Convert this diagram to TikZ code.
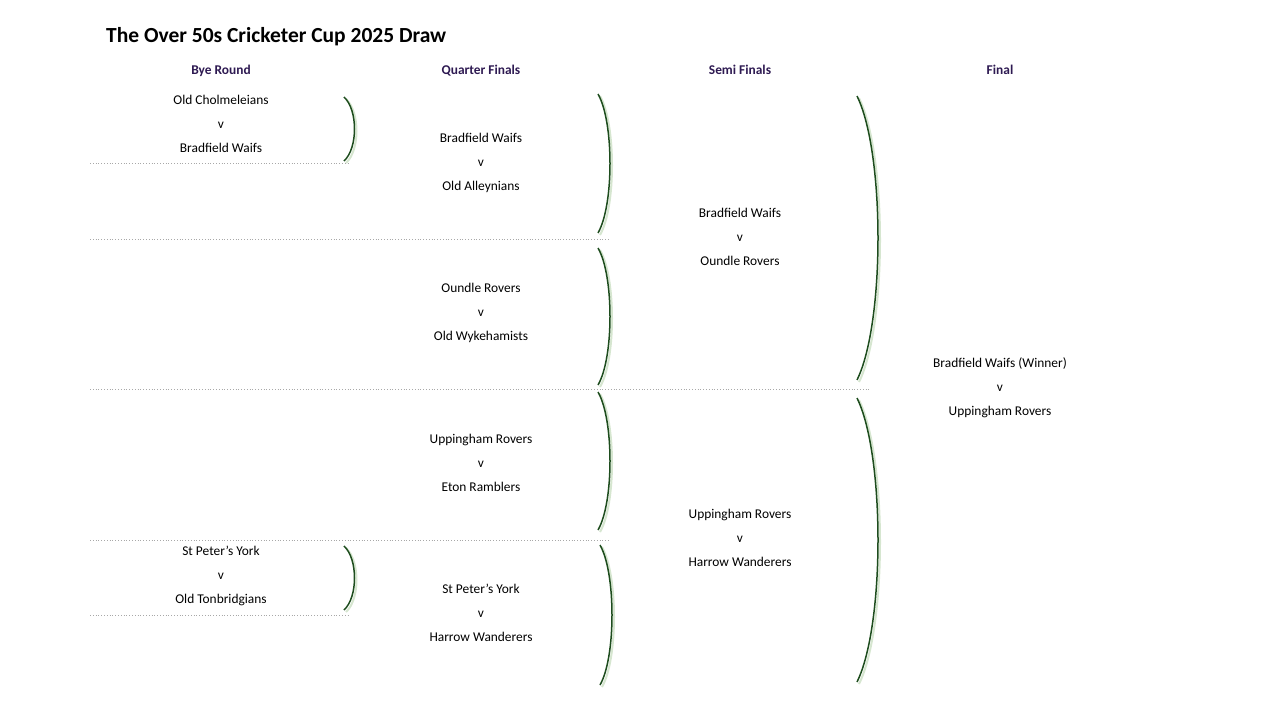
\documentclass[tikz,border=0pt]{standalone}
\usepackage{fontspec}
\setmainfont{Carlito}
\usetikzlibrary{positioning}
\definecolor{hdr}{HTML}{2E1A52}
\definecolor{brk}{HTML}{1E4D1E}
\definecolor{brkshade}{HTML}{D6E6D0}
\definecolor{rule}{HTML}{A8A8A8}
\newcommand{\bracketat}[4]{% x, top, bottom, bulge
  \draw[shade] ({#1+2},{#2+2}) .. controls ({#1+2+#4},{#2+2+0.2*(#3-#2)}) and ({#1+2+#4},{#3+2-0.2*(#3-#2)}) .. ({#1+2},{#3+2});
  \draw[brace] ({#1},{#2}) .. controls ({#1+#4},{#2+0.2*(#3-#2)}) and ({#1+#4},{#3-0.2*(#3-#2)}) .. ({#1},{#3});
}
\begin{document}
\begin{tikzpicture}[x=1pt,y=-1pt,
  team/.style={font=\fontsize{13.4}{15}\selectfont, inner sep=0pt, text height=9pt, text depth=3pt},
  head/.style={font=\fontsize{13.4}{15}\selectfont\bfseries, text=hdr, inner sep=0pt, text height=9pt, text depth=3pt},
  brace/.style={draw=brk, line width=1.5pt},
  shade/.style={draw=brkshade, line width=2pt},
  sep/.style={draw=rule, dotted, line width=0.8pt},
]
  \useasboundingbox (0,0) rectangle (1280,720);

  % Title and round headings
  \node[anchor=west, inner sep=0pt, font=\fontsize{21.5}{24}\selectfont\bfseries] (title) at (106,37) {The Over 50s Cricketer Cup 2025 Draw};
  \node[head] (hbye) at (221,71) {Bye Round};
  \node[head] (hqf) at (481,71) {Quarter Finals};
  \node[head] (hsf) at (740,71) {Semi Finals};
  \node[head] (hf) at (1000,71) {Final};

  % Matches
  \foreach \name/\x/\y/\home/\away in {
      b1/221/101/Old Cholmeleians/Bradfield Waifs,
      b2/221/552/St Peter’s York/Old Tonbridgians,
      q1/481/139/Bradfield Waifs/Old Alleynians,
      q2/481/289/Oundle Rovers/Old Wykehamists,
      q3/481/440/Uppingham Rovers/Eton Ramblers,
      q4/481/590/St Peter’s York/Harrow Wanderers,
      s1/740/214/Bradfield Waifs/Oundle Rovers,
      s2/740/515/Uppingham Rovers/Harrow Wanderers,
      f1/1000/364/Bradfield Waifs (Winner)/Uppingham Rovers} {
    \node[team] (\name_h) at (\x,\y) {\home};
    \node[team] (\name_v) at (\x,\y+24) {v};
    \node[team] (\name_a) at (\x,\y+48) {\away};
  }

  % Dotted separators
  \coordinate (l1) at (90,163); \coordinate (r1) at (350,163);
  \coordinate (l2) at (90,239); \coordinate (r2) at (610,239);
  \coordinate (l3) at (90,389); \coordinate (r3) at (870,389);
  \coordinate (l4) at (90,540); \coordinate (r4) at (610,540);
  \coordinate (l5) at (90,615); \coordinate (r5) at (350,615);
  \foreach \i in {1,...,5} {
    \draw[sep] (l\i) -- (r\i);
  }

  % Brackets
  \bracketat{344}{97}{161}{14}
  \bracketat{344}{546}{610}{14}
  \bracketat{598}{94}{233}{16}
  \bracketat{598}{248}{385}{16}
  \bracketat{598}{392}{530}{16}
  \bracketat{600}{545}{685}{16}
  \bracketat{857}{96}{380}{28}
  \bracketat{857}{398}{682}{28}
\end{tikzpicture}
\end{document}
